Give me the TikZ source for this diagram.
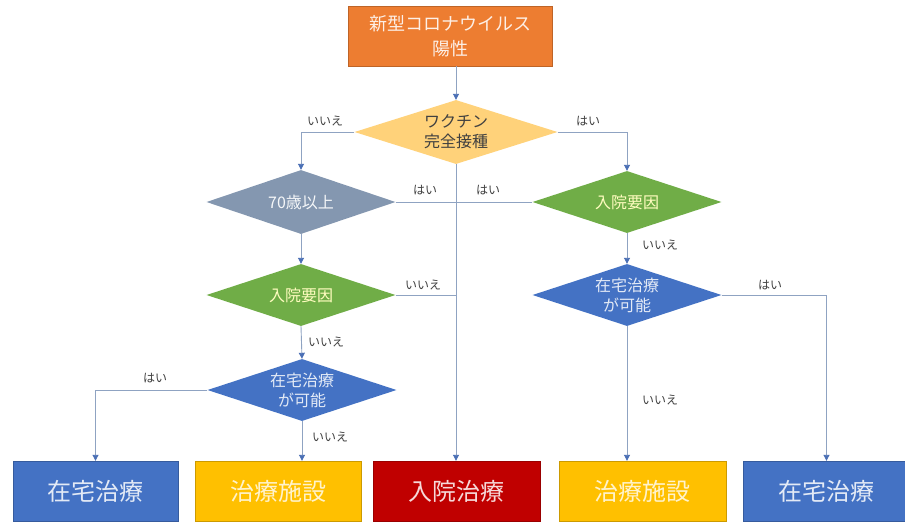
\documentclass[tikz,border=0pt]{standalone}
\usepackage{fontspec}
\setmainfont{Noto Sans CJK JP}
\usetikzlibrary{shapes.geometric,arrows.meta}
\definecolor{cOrange}{HTML}{ED7D31}
\definecolor{cPale}{HTML}{FFD27A}
\definecolor{cSlate}{HTML}{8497B0}
\definecolor{cGreen}{HTML}{70AD47}
\definecolor{cBlue}{HTML}{4472C4}
\definecolor{cYellow}{HTML}{FFC000}
\definecolor{cRed}{HTML}{C00000}
\definecolor{cLine}{HTML}{8FA3C2}
\definecolor{cTip}{HTML}{4A6FB5}
\definecolor{cLab}{HTML}{404040}
\tikzset{
  dia/.style={diamond, aspect=3, inner sep=0pt, minimum width=189pt, minimum height=62pt, align=center, font=\fontsize{16}{20}\selectfont},
  box/.style={rectangle, inner sep=0pt, minimum height=60pt, font=\fontsize{24}{28}\selectfont},
  conn/.style={draw=cLine, line width=0.9pt},
  arr/.style={conn, -{Triangle[length=6pt,width=6pt,color=cTip]}},
  lab/.style={font=\fontsize{12}{14}\selectfont, text=cLab, inner sep=0pt}
}
\begin{document}
\begin{tikzpicture}[x=1pt,y=-1pt]
\useasboundingbox[fill=white] (0,0) rectangle (905,523);
% top
\node[rectangle, fill=cOrange, draw=cOrange!80!black, line width=0.5pt, minimum width=204pt, minimum height=60pt, inner sep=0pt, align=center, text=white!88!cOrange, font=\fontsize{18}{25}\selectfont] (top) at (450,36) {新型コロナウイルス\\陽性};
% diamonds
\node[dia, fill=cPale, minimum width=203pt, minimum height=64pt, text=cLab] (d1) at (456,132) {ワクチン\\完全接種};
\node[dia, fill=cSlate, minimum height=64pt, text=white!92!cSlate] (d2) at (301,202) {70歳以上};
\node[dia, fill=cGreen, text=white!75!yellow] (d3) at (301,295) {入院要因};
\node[dia, fill=cBlue, text=white!85!cBlue] (d4) at (302,390) {在宅治療\\が可能};
\node[dia, fill=cGreen, text=white!75!yellow] (d5) at (627,202) {入院要因};
\node[dia, fill=cBlue, text=white!85!cBlue] (d6) at (627,295) {在宅治療\\が可能};
% boxes
\node[box, fill=cBlue, draw=cBlue!80!black, minimum width=165pt, text=white!85!cBlue] (b1) at (95.5,491) {在宅治療};
\node[box, fill=cYellow, draw=cYellow!80!black, minimum width=166pt, text=white!80!cYellow] (b2) at (278,491) {治療施設};
\node[box, fill=cRed, draw=cRed!80!black, minimum width=167pt, text=white!85!cRed] (b3) at (456.5,491) {入院治療};
\node[box, fill=cYellow, draw=cYellow!80!black, minimum width=167pt, text=white!80!cYellow] (b4) at (642.5,491) {治療施設};
\node[box, fill=cBlue, draw=cBlue!80!black, minimum width=167pt, text=white!85!cBlue] (b5) at (826.5,491) {在宅治療};
% connectors
\draw[arr] (top.south -| d1.north) -- (d1.north);
\draw[arr] (d1.west) -| (d2.north);
\draw[arr] (d1.east) -| (d5.north);
\draw[arr] (d1.south) -- (d1.south |- b3.north);
\draw[conn] (d2.east) -- (d5.west);
\draw[arr] (d2.south) -- (d3.north);
\draw[conn] (d3.east) -- (d3.east -| d1.south);
\draw[arr] (d3.south) -- (d4.north);
\draw[arr] (d4.west) -| (b1.north);
\draw[arr] (d4.south) -- (d4.south |- b2.north);
\draw[arr] (d5.south) -- (d6.north);
\draw[arr] (d6.east) -| (b5.north);
\draw[arr] (d6.south) -- (d6.south |- b4.north);
% labels
\node[lab] (l1) at (325,121) {いいえ};
\node[lab] (l2) at (588,121) {はい};
\node[lab] (l3) at (425,190) {はい};
\node[lab] (l4) at (488,190) {はい};
\node[lab] (l5) at (423,285) {いいえ};
\node[lab] (l6) at (326,342) {いいえ};
\node[lab] (l7) at (155,378) {はい};
\node[lab] (l8) at (330,437) {いいえ};
\node[lab] (l9) at (660,245) {いいえ};
\node[lab] (l10) at (770,285) {はい};
\node[lab] (l11) at (660,400) {いいえ};
\end{tikzpicture}
\end{document}
